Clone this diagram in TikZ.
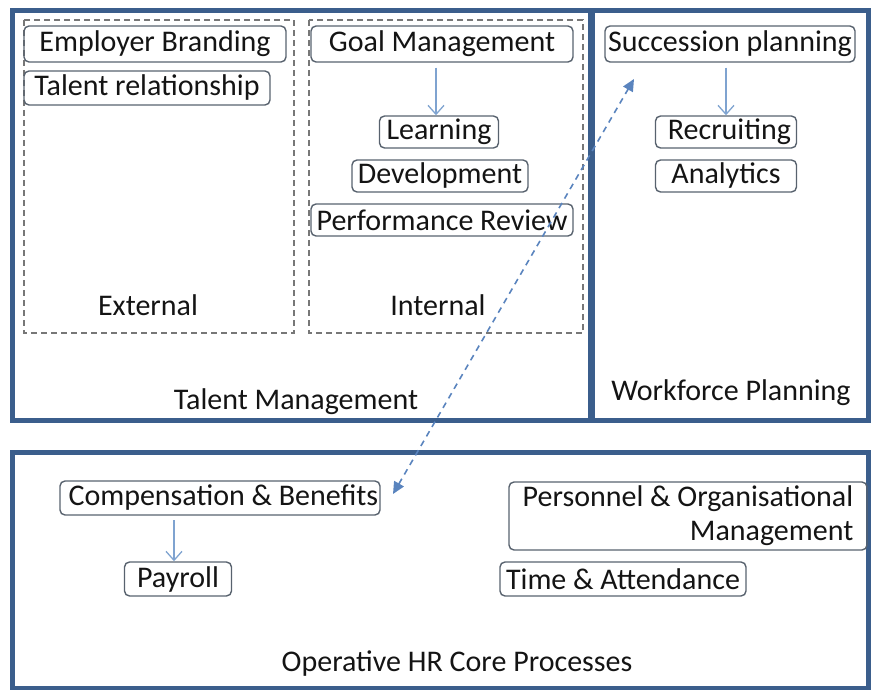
\documentclass[tikz,border=0pt]{standalone}
\usepackage{fontspec}
\setmainfont{Carlito}
\usetikzlibrary{arrows.meta}
\definecolor{frameblue}{HTML}{3B5E8C}
\definecolor{nodeedge}{HTML}{58626E}
\definecolor{arrowblue}{HTML}{7FA3D0}
\definecolor{dashblue}{HTML}{5A84BE}
\definecolor{dashgray}{HTML}{777777}
\begin{document}
\begin{tikzpicture}[x=1pt,y=-1pt,
  every node/.style={font=\fontsize{30}{34}\selectfont, text=black!92},
  frame/.style={draw=frameblue, line width=5pt},
  dbox/.style={draw=dashgray, line width=1.3pt, dash pattern=on 6pt off 4pt},
  item/.style={draw=nodeedge, line width=1.4pt, rounded corners=5pt, inner sep=0pt, anchor=center},
  flow/.style={draw=arrowblue, line width=1.3pt, -{Straight Barb[length=9pt,width=16pt]}},
  link/.style={draw=dashblue, line width=1.6pt, dash pattern=on 6pt off 5pt, {Triangle[length=12pt,width=11pt]}-{Triangle[length=12pt,width=11pt]}}
]
\useasboundingbox (0,0) rectangle (871,690);
% outer frames
\draw[frame] (12,11) rectangle (590,420);
\draw[frame] (592,11) rectangle (868,420);
\draw[frame] (12,452) rectangle (868,688);
% dashed groups
\draw[dbox] (24,20) rectangle (294,333);
\draw[dbox] (309,20) rectangle (583,333);
% group labels
\node (ext) at (148,305) {External};
\node (int) at (438,305) {Internal};
\node (tm) at (296,402) {Talent Management};
\node (wp) at (731,393) {Workforce Planning};
\node (op) at (457,664) {Operative HR Core Processes};
% external
\node[item, minimum width=262pt, minimum height=36pt] (eb) at (155,44) {Employer Branding};
\node[item, minimum width=246pt, minimum height=34pt] (tr) at (147,88) {Talent relationship};
% internal
\node[item, minimum width=262pt, minimum height=36pt] (gm) at (442,44) {Goal Management};
\node[item, minimum width=119pt, minimum height=32pt] (le) at (439,132) {Learning};
\node[item, minimum width=176pt, minimum height=32pt] (de) at (440,176) {Development};
\node[item, minimum width=262pt, minimum height=32pt] (pr) at (442,220) {Performance Review};
\draw[flow] (gm.south -| le.north) ++(-3,5) coordinate (g1) (g1) -- (g1 |- le.north);
% workforce
\node[item, minimum width=250pt, minimum height=36pt] (sp) at (730,44) {Succession planning};
\node[item, minimum width=141pt, minimum height=32pt] (re) at (726,132) {\ Recruiting};
\node[item, minimum width=141pt, minimum height=32pt] (an) at (726,176) {Analytics};
\draw[flow] (re.north |- sp.south) ++(0,5) coordinate (s1) (s1) -- (s1 |- re.north);
% operative
\node[item, minimum width=320pt, minimum height=34pt] (cb) at (220,498) {\ Compensation \& Benefits};
\node[item, minimum width=107pt, minimum height=34pt] (pa) at (178,579) {Payroll};
\draw[flow] (174,520) coordinate (c1) -- (c1 |- pa.north);
\node[item, minimum width=358pt, minimum height=68pt, align=right] (po) at (688,516) {Personnel \& Organisational\\Management};
\node[item, minimum width=246pt, minimum height=34pt] (ta) at (623,579) {Time \& Attendance};
% cross link
\coordinate (la) at (393,494);
\coordinate (lb) at (634,79);
\draw[link] (la) -- (lb);
\end{tikzpicture}
\end{document}
